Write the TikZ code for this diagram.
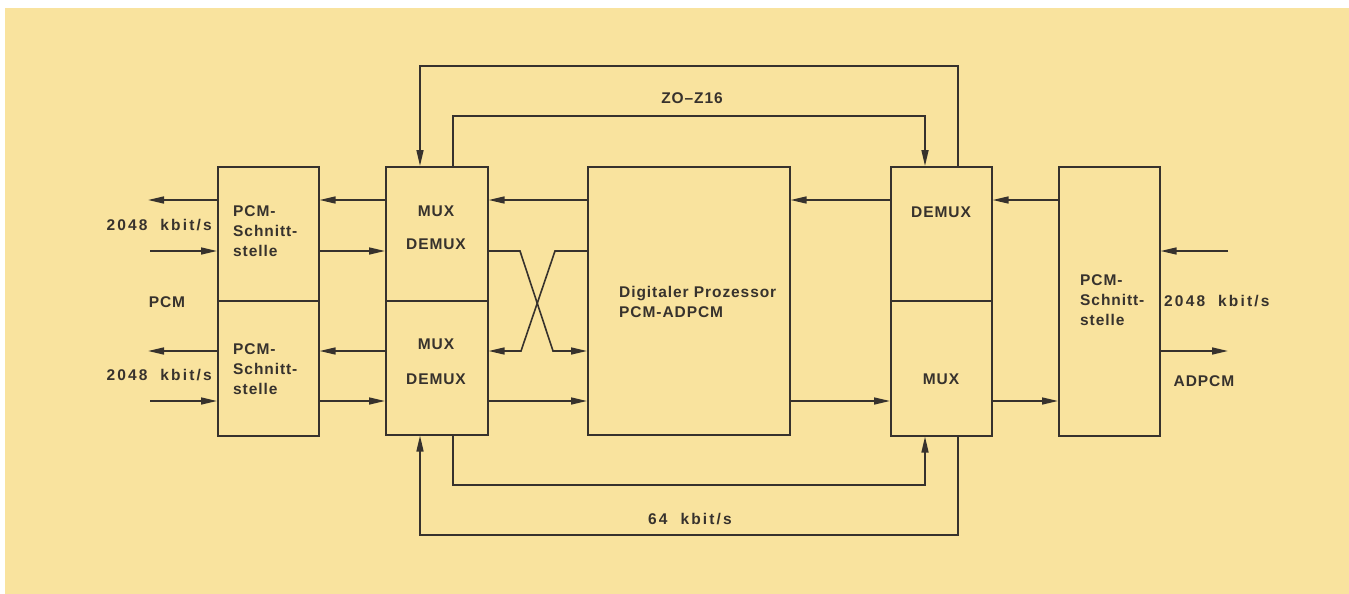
\documentclass[tikz,border=0pt]{standalone}
\usepackage{fontspec}
\setmainfont{Liberation Sans}[LetterSpace=6]
\usetikzlibrary{arrows.meta}
\definecolor{bg}{RGB}{249,227,158}
\definecolor{ink}{RGB}{55,50,45}
\begin{document}
\begin{tikzpicture}[x=1pt,y=-1pt,
  box/.style={draw=ink,line width=1.6pt,anchor=north west,inner sep=0pt,minimum width=101pt,minimum height=134pt},
  lbl/.style={text=ink,font=\fontsize{15.5}{19.8}\selectfont\bfseries,inner sep=0pt},
  rate/.style={lbl,font=\fontsize{15.5}{19.8}\selectfont\bfseries\addfontfeature{LetterSpace=14}},
  conn/.style={draw=ink,line width=1.6pt},
  arr/.style={conn,-{Triangle[length=16pt,width=7pt]}}]
\useasboundingbox (0,0) rectangle (1349,594);
\fill[white] (0,0) rectangle (1349,594);
\fill[bg] (5,8) rectangle (1349,594);
% boxes
\node[box] (L1) at (217,166) {};
\node[box,minimum height=135pt] (L2) at (217,300) {};
\node[box,minimum width=102pt] (M1) at (385,166) {};
\node[box,minimum width=102pt] (M2) at (385,300) {};
\node[box,minimum width=202pt,minimum height=268pt] (P) at (587,166) {};
\node[box] (R1) at (890,166) {};
\node[box,minimum height=135pt] (R2) at (890,300) {};
\node[box,minimum height=269pt] (RP) at (1058,166) {};
% levels
\coordinate (yA) at (0,200);
\coordinate (yB) at (0,251);
\coordinate (yC) at (0,351);
\coordinate (yD) at (0,401);
\coordinate (yT) at (0,66);
\coordinate (yU) at (0,116);
\coordinate (yV) at (0,485);
\coordinate (yW) at (0,535);
\coordinate (xa) at (420,0);
\coordinate (xb) at (453,0);
\coordinate (xc) at (925,0);
\coordinate (xd) at (958,0);
% free ends
\coordinate (lo1) at (148,200);
\coordinate (li1) at (150,251);
\coordinate (lo2) at (148,351);
\coordinate (li2) at (150,401);
\coordinate (ri) at (1228,251);
\coordinate (ro) at (1228,351);
\coordinate (c1) at (520,251);
\coordinate (c2) at (553,351);
\coordinate (c3) at (555,251);
\coordinate (c4) at (521,351);
% left side
\draw[arr] (L1.west |- yA) -- (lo1);
\draw[arr] (li1) -- (L1.west |- yB);
\draw[arr] (L2.west |- yC) -- (lo2);
\draw[arr] (li2) -- (L2.west |- yD);
\draw[arr] (M1.west |- yA) -- (L1.east |- yA);
\draw[arr] (L1.east |- yB) -- (M1.west |- yB);
\draw[arr] (M2.west |- yC) -- (L2.east |- yC);
\draw[arr] (L2.east |- yD) -- (M2.west |- yD);
% middle
\draw[arr] (P.west |- yA) -- (M1.east |- yA);
\draw[arr] (M1.east |- yB) -- (c1) -- (c2) -- (P.west |- yC);
\draw[arr] (P.west |- yB) -- (c3) -- (c4) -- (M2.east |- yC);
\draw[arr] (M2.east |- yD) -- (P.west |- yD);
\draw[arr] (R1.west |- yA) -- (P.east |- yA);
\draw[arr] (P.east |- yD) -- (R2.west |- yD);
% right side
\draw[arr] (RP.west |- yA) -- (R1.east |- yA);
\draw[arr] (R2.east |- yD) -- (RP.west |- yD);
\draw[arr] (ri) -- (RP.east |- yB);
\draw[arr] (RP.east |- yC) -- (ro);
% loops
\draw[arr] (R1.north -| xd) -- (xd |- yT) -- (xa |- yT) -- (M1.north -| xa);
\draw[arr] (M1.north -| xb) -- (xb |- yU) -- (xc |- yU) -- (R1.north -| xc);
\draw[arr] (M2.south -| xb) -- (xb |- yV) -- (xc |- yV) -- (R2.south -| xc);
\draw[arr] (R2.south -| xd) -- (xd |- yW) -- (xa |- yW) -- (M2.south -| xa);
% labels
\node[rate,anchor=east] (t1) at (212,225) {2048~~kbit/s};
\node[rate,anchor=east] (t2) at (212,375) {2048~~kbit/s};
\node[lbl] (t3) at (167,302) {PCM};
\node[lbl,anchor=west,align=left] (t4) at (233,231) {PCM-\\Schnitt-\\stelle};
\node[lbl,anchor=west,align=left] (t5) at (233,369) {PCM-\\Schnitt-\\stelle};
\node[lbl] (t6) at (436,211) {MUX};
\node[lbl] (t7) at (436,244) {DEMUX};
\node[lbl] (t8) at (436,344) {MUX};
\node[lbl] (t9) at (436,379) {DEMUX};
\node[lbl,anchor=west,align=left] (t10) at (619,302) {Digitaler Prozessor\\PCM-ADPCM};
\node[lbl] (t11) at (941,212) {DEMUX};
\node[lbl] (t12) at (941,379) {MUX};
\node[lbl,anchor=west,align=left] (t13) at (1080,300) {PCM-\\Schnitt-\\stelle};
\node[rate,anchor=west] (t14) at (1164,301) {2048~~kbit/s};
\node[lbl] (t15) at (1204,381) {ADPCM};
\node[lbl] (t16) at (692,98) {ZO–Z16};
\node[rate] (t17) at (690,519) {64~~kbit/s};
\end{tikzpicture}
\end{document}
